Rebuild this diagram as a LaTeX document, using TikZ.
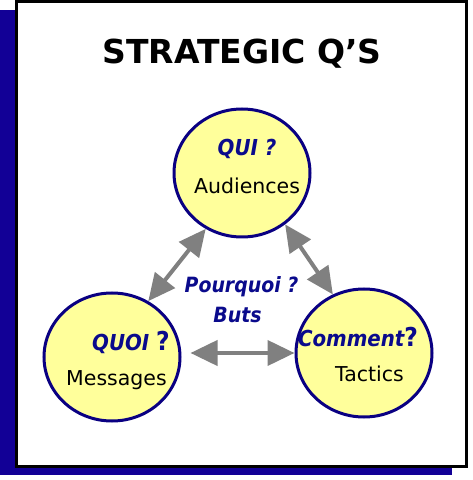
\documentclass[tikz,border=0pt]{standalone}
\usepackage{fontspec}
\setmainfont{DejaVu Sans}
\newfontfamily\condfont{DejaVu Sans Condensed}
\usepackage{xcolor}
\usepackage{tikz}
\usetikzlibrary{shapes.geometric,arrows.meta,positioning,calc}

\definecolor{shadowblue}{RGB}{18,0,150}
\definecolor{ringblue}{RGB}{10,0,130}
\definecolor{qblue}{RGB}{10,10,140}
\definecolor{discfill}{RGB}{255,255,155}
\definecolor{arrowgray}{RGB}{128,128,128}

\begin{document}
\begin{tikzpicture}[
    x=1pt, y=1pt,
    disc/.style={ellipse, draw=ringblue, fill=discfill, line width=3pt, minimum width=136pt, minimum height=128pt, inner sep=0pt},
    qword/.style={anchor=base, inner sep=0pt, text=qblue, font=\condfont\bfseries\itshape\fontsize{22}{26}\selectfont},
    aword/.style={anchor=base, inner sep=0pt, font=\fontsize{20.5}{24}\selectfont},
    arr/.style={{Triangle[length=27pt,width=25pt]}-{Triangle[length=27pt,width=25pt]}, line width=4pt, draw=arrowgray}
]
    \useasboundingbox (0,0) rectangle (473,480);
    % frame and shadow
    \fill [shadowblue] (0,5) rectangle (452,470);
    \draw [line width=3pt, fill=white] (16.5,13.5) rectangle (466.5,478.5);

    \node [anchor=base, inner sep=0pt, font=\bfseries\fontsize{33}{38}\selectfont] (title) at (242,416) {STRATEGIC Q’S};

    % the three questions
    \node [disc] (qui) at (242,307) {};
    \node [disc] (quoi) at (112,123) {};
    \node [disc] (comment) at (364,127) {};

    \node [qword] (quilbl) at ($(qui)+(5,17)$) {QUI ?};
    \node [aword] (audlbl) at ($(qui)+(5,-21)$) {Audiences};
    \node [qword] (quoilbl) at ($(quoi)+(19,6)$) {QUOI {\upshape\bfseries\fontsize{26}{30}\selectfont ?}};
    \node [aword] (msglbl) at ($(quoi)+(4.5,-29)$) {Messages};
    \node [qword] (comlbl) at ($(comment)+(-6,6)$) {Comment{\upshape\bfseries\fontsize{26}{30}\selectfont ?}};
    \node [aword] (taclbl) at ($(comment)+(5.5,-29)$) {Tactics};

    \node [qword, font=\condfont\bfseries\itshape\fontsize{21}{25}\selectfont] (why) at (241.5,187) {Pourquoi ?};
    \node [qword, font=\condfont\bfseries\itshape\fontsize{21}{25}\selectfont] (buts) at (237.5,157) {Buts};

    \draw [arr] (quoi.57) -- (qui.237);
    \draw [arr] (qui.-50) -- (comment.118);
    \draw [arr, shorten <=9pt] (quoi.east |- comment.west) -- (comment.west);
\end{tikzpicture}
\end{document}
